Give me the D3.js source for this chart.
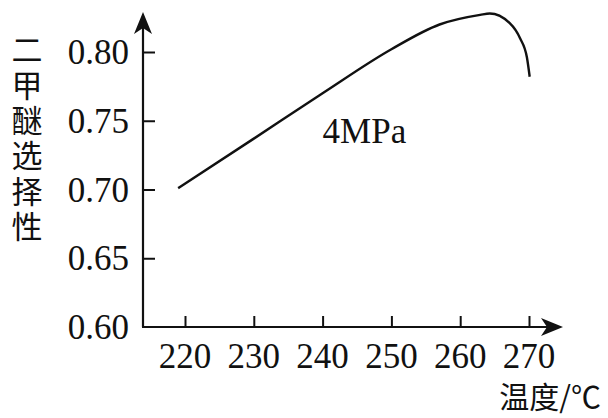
<!DOCTYPE html>
<html>
<head>
<meta charset="utf-8">
<script src="https://cdn.jsdelivr.net/npm/d3@7"></script>
<style>
  body { margin: 0; background: #fff; }
  svg text { fill: #111; }
  .num { font-family: "Liberation Serif", "DejaVu Serif", serif; font-size: 35px; }
  .cjk { font-family: "Noto Sans CJK SC", sans-serif; font-size: 31px; }
</style>
</head>
<body>
<svg width="608" height="418"></svg>
<script>
  //chart data
  const temps = [219, 230, 240, 250, 257, 262.9, 264.3, 267.2, 268.7, 269.7, 270.1]
    , selectivity = [0.701, 0.737, 0.770, 0.802, 0.820, 0.827, 0.828, 0.821, 0.810, 0.796, 0.782]
    , xTicks = [220, 230, 240, 250, 260, 270]
    , yTicks = [0.60, 0.65, 0.70, 0.75, 0.80]
    , yTitle = "二甲醚选择性"
    , xTitle = "温度/℃"
    , curveLabel = {text: "4MPa", x: 240, y: 0.734};

  let svg = d3.select("svg");

  let x = d3.scaleLinear().domain([220, 270]).range([185, 529]);
  let y = d3.scaleLinear().domain([0.6, 0.8]).range([327, 52]);

  const originX = 143, originY = 327;

  //axis lines with arrows
  svg.append("line").attr("x1", originX).attr("y1", originY)
    .attr("x2", originX).attr("y2", 26)
    .attr("stroke", "#111").attr("stroke-width", 2.2);
  svg.append("line").attr("x1", originX - 1).attr("y1", originY)
    .attr("x2", 550).attr("y2", originY)
    .attr("stroke", "#111").attr("stroke-width", 2.2);

  svg.append("path")
    .attr("d", `M${originX},12 L${originX - 9},34 L${originX},28 L${originX + 9},34 Z`)
    .attr("fill", "#111");
  svg.append("path")
    .attr("d", `M563,${originY} L541,${originY - 9} L547,${originY} L541,${originY + 9} Z`)
    .attr("fill", "#111");

  //x ticks (pointing up) and labels
  let xAxis = d3.axisTop(x).tickValues(xTicks).tickSize(11).tickFormat("");
  svg.append("g").attr("transform", `translate(0,${originY})`).call(xAxis)
    .call(g => g.select(".domain").remove())
    .call(g => g.selectAll("line").attr("stroke", "#111").attr("stroke-width", 2));

  svg.append("g").selectAll("text").data(xTicks).enter().append("text")
    .attr("class", "num")
    .attr("x", d => x(d))
    .attr("y", 368)
    .attr("text-anchor", "middle")
    .text(d => d);

  //y ticks (pointing right) and labels
  let yAxis = d3.axisRight(y).tickValues(yTicks.slice(1)).tickSize(12).tickFormat("");
  svg.append("g").attr("transform", `translate(${originX},0)`).call(yAxis)
    .call(g => g.select(".domain").remove())
    .call(g => g.selectAll("line").attr("stroke", "#111").attr("stroke-width", 2));

  svg.append("g").selectAll("text").data(yTicks).enter().append("text")
    .attr("class", "num")
    .attr("x", 129)
    .attr("y", d => y(d) + 12)
    .attr("text-anchor", "end")
    .text(d => d.toFixed(2));

  //axis titles - y title written top to bottom
  svg.append("text")
    .attr("class", "cjk")
    .attr("x", 27)
    .attr("y", 34)
    .style("writing-mode", "vertical-rl")
    .style("letter-spacing", "4.4px")
    .text(yTitle);

  svg.append("text").attr("class", "cjk")
    .attr("x", 601).attr("y", 408)
    .attr("text-anchor", "end")
    .style("font-size", "30px")
    .text(xTitle);

  //the curve
  let line = d3.line()
    .x((d, i) => x(temps[i]))
    .y(d => y(d))
    .curve(d3.curveMonotoneX);

  svg.append("path").datum(selectivity)
    .attr("d", line)
    .attr("fill", "none")
    .attr("stroke", "#111")
    .attr("stroke-width", 2.4);

  svg.append("text").attr("class", "num")
    .attr("x", x(curveLabel.x))
    .attr("y", y(curveLabel.y))
    .text(curveLabel.text);
</script>
</body>
</html>
